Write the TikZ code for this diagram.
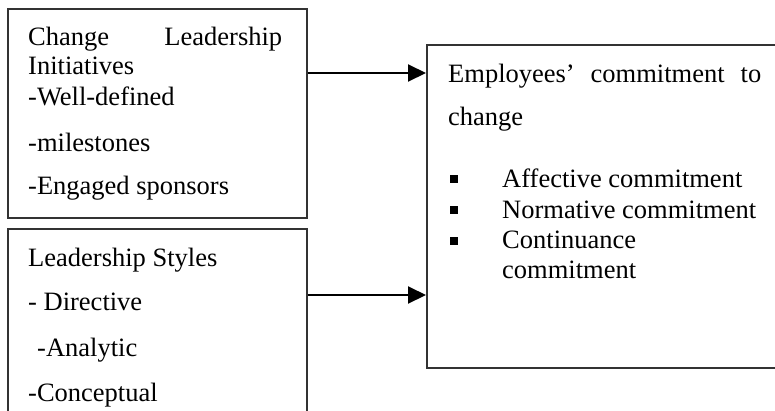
\documentclass[tikz,border=0pt]{standalone}
\usepackage{fontspec}
\setmainfont{Liberation Serif}
\usepackage{tikz}
\usetikzlibrary{arrows.meta,positioning}

\newcommand{\boxfont}{\fontsize{26.5pt}{30pt}\selectfont}

\begin{document}
\begin{tikzpicture}[
  x=1pt, y=-1pt,
  frame/.style={draw=black!80, line width=1.6pt, anchor=north west, inner sep=0pt},
  line/.style={anchor=base west, inner sep=0pt, font=\boxfont},
  bullet/.style={fill=black, inner sep=0pt, minimum size=7.5pt},
  arr/.style={-{Triangle[length=18pt, width=17pt]}, line width=2pt, draw=black}
]
\clip (0,0) rectangle (775,410);
\fill[white] (0,0) rectangle (775,410);

% the three boxes
\node[frame, minimum width=299pt, minimum height=209pt] (cli) at (7,8) {};
\node[frame, minimum width=299pt, minimum height=212pt] (styles) at (7,228) {};
\node[frame, minimum width=380pt, minimum height=323pt] (commit) at (426,44) {};

% change leadership initiatives
\node[line] (cliA) at (28,45) {\hbox to 254pt{Change\hfill Leadership}};
\node[line] (cliB) at (28,74) {Initiatives};
\node[line] (cliC) at (28,105) {-Well-defined};
\node[line] (cliD) at (28,151) {-milestones};
\node[line] (cliE) at (28,194) {-Engaged sponsors};

% leadership styles
\node[line] (stA) at (28,266) {Leadership Styles};
\node[line] (stB) at (28,310) {- Directive};
\node[line] (stC) at (37,356) {-Analytic};
\node[line] (stD) at (28,401) {-Conceptual};

% employees' commitment
\node[line] (cmA) at (448,82) {\hbox to 313pt{Employees’\hfill commitment\hfill to}};
\node[line] (cmB) at (448,125) {change};
\node[bullet] (b1) at (454,179) {};
\node[bullet] (b2) at (454,210) {};
\node[bullet] (b3) at (454,241) {};
\node[line] (cmC) at (502,187) {Affective commitment};
\node[line] (cmD) at (502,218) {Normative commitment};
\node[line] (cmE) at (502,248) {Continuance};
\node[line] (cmF) at (502,278) {commitment};

% connectors
\coordinate (lvl1) at (0,73);
\coordinate (lvl2) at (0,295);
\draw[arr] (cli.east |- lvl1) -- (commit.west |- lvl1);
\draw[arr] (styles.east |- lvl2) -- (commit.west |- lvl2);
\end{tikzpicture}
\end{document}
